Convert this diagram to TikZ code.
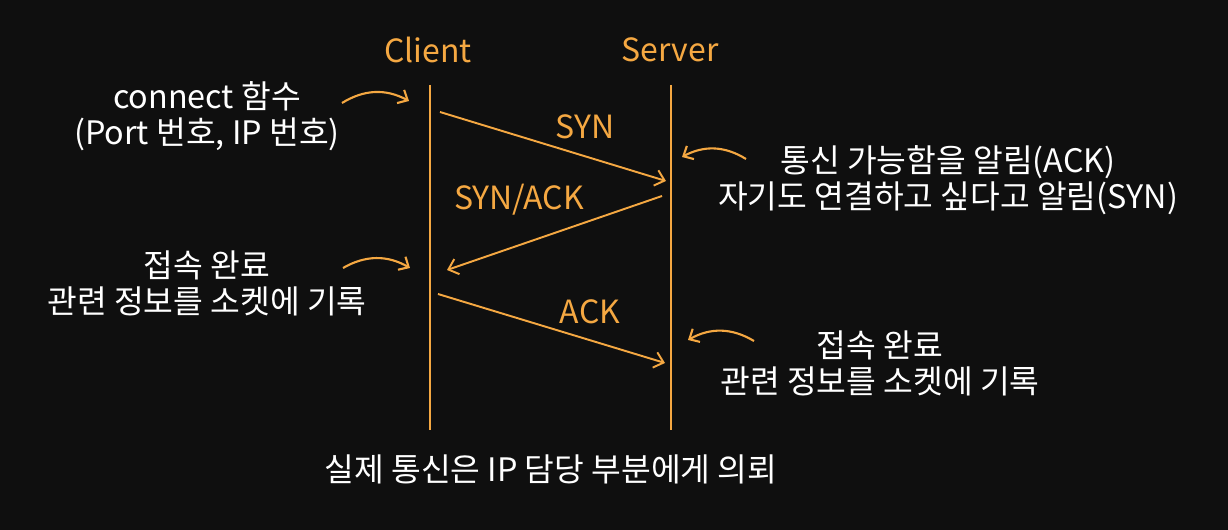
\documentclass[tikz,border=0pt]{standalone}
\usepackage{fontspec}
\setmainfont{Noto Sans CJK KR}
\usetikzlibrary{arrows.meta}
\definecolor{bgdark}{RGB}{15,15,15}
\definecolor{lineor}{RGB}{245,168,66}
\tikzset{
  lifeline/.style={draw=lineor,line width=1.1pt},
  msg/.style={draw=lineor,line width=1.1pt,
    -{Straight Barb[length=1.8mm,width=3.2mm]}},
  hint/.style={draw=lineor,line width=1.2pt,
    -{Straight Barb[length=1.6mm,width=3mm]}},
  who/.style={text=lineor,font=\fontsize{18.2}{20}\selectfont},
  msglab/.style={text=lineor,font=\fontsize{18.2}{20}\selectfont},
  note/.style={text=white,align=center,font=\fontsize{18.4}{20.5}\selectfont}
}

\begin{document}
\begin{tikzpicture}[x=0.02cm,y=-0.02cm]
  \fill[bgdark] (0,0) rectangle (1228,530);
  \useasboundingbox (0,0) rectangle (1228,530);
  % lifelines
  \node[who] (client) at (428,50) {Client};
  \node[who] (server) at (670,50) {Server};
  \coordinate (ctop) at (430,85);  \coordinate (cbot) at (430,430);
  \coordinate (stop) at (671,85);  \coordinate (sbot) at (671,430);
  \draw[lifeline] (ctop) -- (cbot);
  \draw[lifeline] (stop) -- (sbot);
  % handshake messages
  \coordinate (syn1) at (440,112); \coordinate (syn2) at (666,181);
  \coordinate (sa1) at (662,196);  \coordinate (sa2) at (447,270);
  \coordinate (ack1) at (438,294); \coordinate (ack2) at (665,363);
  \draw[msg] (syn1) -- (syn2);
  \draw[msg] (sa1) -- (sa2);
  \draw[msg] (ack1) -- (ack2);
  \node[msglab] (synlab) at (585,127) {SYN};
  \node[msglab] (salab) at (519,200) {SYN/ACK};
  \node[msglab] (acklab) at (590,312) {ACK};
  % notes
  \node[note] (connect) at (207,116) {connect 함수\\(Port 번호, IP 번호)};
  \node[note] (ackinfo) at (948,180) {통신 가능함을 알림(ACK)\\자기도 연결하고 싶다고 알림(SYN)};
  \node[note] (cdone) at (207,283) {접속 완료\\관련 정보를 소켓에 기록};
  \node[note] (sdone) at (880,363) {접속 완료\\관련 정보를 소켓에 기록};
  \node[note] (ipnote) at (551,469) {실제 통신은 IP 담당 부분에게 의뢰};
  % pointer arrows
  \coordinate (h1a) at (342,103); \coordinate (h1b) at (409,101);
  \coordinate (h2a) at (746,159); \coordinate (h2b) at (682,157);
  \coordinate (h3a) at (343,268); \coordinate (h3b) at (410,268);
  \coordinate (h4a) at (754,341); \coordinate (h4b) at (688,340);
  \draw[hint] (h1a) to[bend left=30] (h1b);
  \draw[hint] (h2a) to[bend right=30] (h2b);
  \draw[hint] (h3a) to[bend left=30] (h3b);
  \draw[hint] (h4a) to[bend right=30] (h4b);
\end{tikzpicture}
\end{document}
